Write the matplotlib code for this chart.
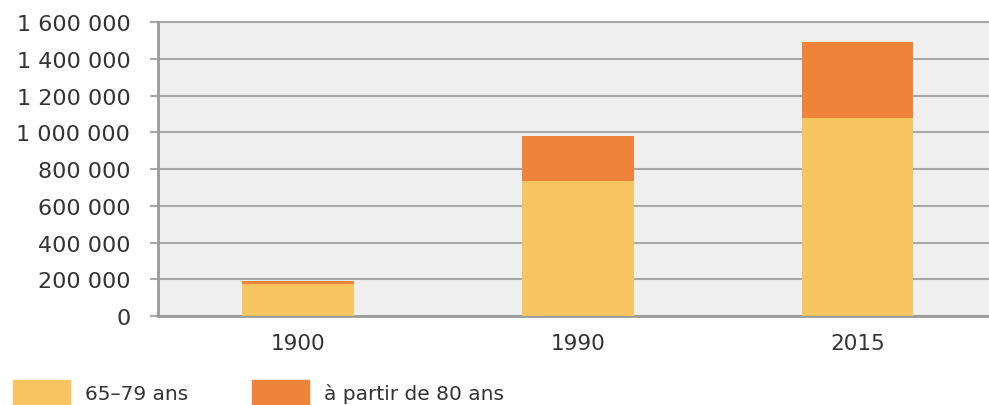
import matplotlib
matplotlib.use('Agg')
from matplotlib import pyplot as plt
from matplotlib.patches import Patch
from matplotlib.ticker import FuncFormatter

years = ['1900', '1990', '2015']
ans_65_79 = [175000, 735000, 1080000]
ans_80 = [15000, 245000, 413000]
labels = ['65–79 ans', 'à partir de 80 ans']
col = {'65-79': '#F7C462', '80+': '#EF833A'}

fig = plt.figure(figsize=(9.89, 4.06), dpi=100)
ax = fig.add_axes([0.1598, 0.219, 0.8402, 0.724])
ax.set_facecolor('#EFEFEF')

x = range(len(years))
ax.bar(x, ans_65_79, width=0.4, color=col['65-79'], zorder=3)
ax.bar(x, ans_80, width=0.4, bottom=ans_65_79, color=col['80+'], zorder=3)

ax.set_ylim(0, 1600000)
ax.set_xlim(-0.5, 2.47)
ax.set_yticks(range(0, 1600001, 200000))
ax.yaxis.set_major_formatter(FuncFormatter(lambda v, p: '{:,.0f}'.format(v).replace(',', ' ')))
ax.set_xticks(list(x))
ax.set_xticklabels(years)

ax.grid(axis='y', color='#A8A8A8', linewidth=1.5, zorder=1)
for ln in ax.get_ygridlines():
    ln.set_clip_on(False)
for s in ['top', 'right']:
    ax.spines[s].set_visible(False)
ax.spines['left'].set_color('#9A9A9A')
ax.spines['left'].set_linewidth(2)
ax.spines['bottom'].set_color('#9A9A9A')
ax.spines['bottom'].set_linewidth(2)
ax.tick_params(axis='y', length=6, width=1.5, color='#A8A8A8', labelsize=16,
               labelcolor='#333333', pad=14)
ax.tick_params(axis='x', length=0, labelsize=15.5, labelcolor='#333333', pad=12)

handles = [Patch(color=col['65-79']), Patch(color=col['80+'])]
fig.legend(handles, labels, loc='lower left', bbox_to_anchor=(-0.005, -0.045), ncol=2,
           frameon=False, fontsize=14.5, handlelength=2.8, handleheight=1.55,
           handletextpad=0.75, columnspacing=3.2, labelcolor='#333333')

fig.savefig('out.png', dpi=100)
